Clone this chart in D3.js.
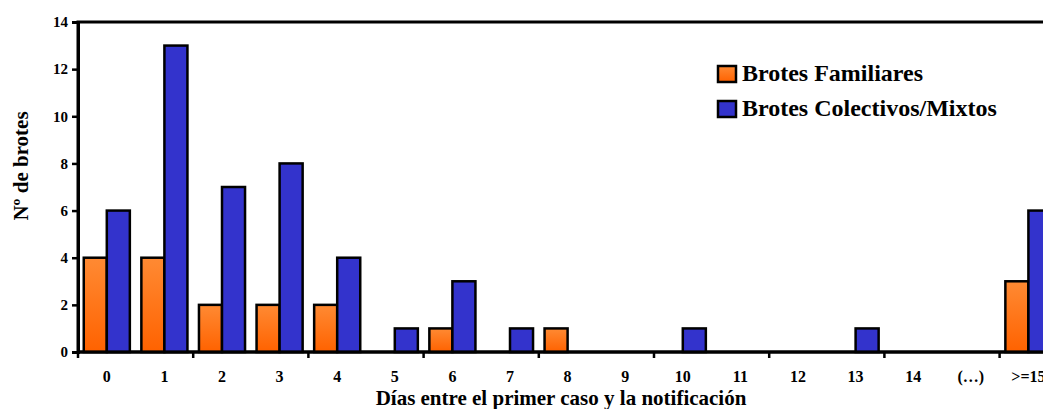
<!DOCTYPE html>
<html>
<head>
<meta charset="utf-8">
<script src="https://cdn.jsdelivr.net/npm/d3@7"></script>
<style>
  body { margin: 0; background: #fff; }
  svg { display: block; }
  text { font-family: "Liberation Serif", "Times New Roman", serif; font-weight: bold; fill: #000; }
</style>
</head>
<body>
<svg></svg>
<script>
const categorias = ["0", "1", "2", "3", "4", "5", "6", "7", "8", "9", "10", "11", "12", "13", "14", "(…)", ">=15"]
const familiares = [4, 4, 2, 2, 2, 0, 1, 0, 1, 0, 0, 0, 0, 0, 0, 0, 3]
const colectivos = [6, 13, 7, 8, 4, 1, 3, 1, 0, 0, 1, 0, 0, 1, 0, 0, 6]
const yTicks = [0, 2, 4, 6, 8, 10, 12, 14]
const series = [
    { naam: "Brotes Familiares", waarden: familiares, fill: "url(#oranje)" },
    { naam: "Brotes Colectivos/Mixtos", waarden: colectivos, fill: "#3333CC" }
]

const width = 1043
const height = 409
const margin = { left: 78, top: 22, bottom: 57 }
const plotRight = margin.left + categorias.length * 57.6

const svg = d3.select('svg')
    .attr("width", width)
    .attr("height", height)

const defs = svg.append("defs")
const grad = defs.append("linearGradient")
    .attr("id", "oranje")
    .attr("x1", 0).attr("y1", 0).attr("x2", 0).attr("y2", 1)
grad.append("stop").attr("offset", "0%").attr("stop-color", "#FF8A33")
grad.append("stop").attr("offset", "100%").attr("stop-color", "#FF6200")

const x = d3.scaleBand()
    .domain(categorias)
    .range([margin.left, plotRight])
    .paddingInner(0.2)
    .paddingOuter(0.1)

const xSub = d3.scaleBand()
    .domain(series.map(s => s.naam))
    .range([0, x.bandwidth()])

const y = d3.scaleLinear()
    .domain([0, 14])
    .range([height - margin.bottom, margin.top])

// kader
svg.append("rect")
    .attr("x", margin.left)
    .attr("y", margin.top)
    .attr("width", plotRight - margin.left)
    .attr("height", y(0) - margin.top)
    .attr("fill", "none")
    .attr("stroke", "#000")
    .attr("stroke-width", 3)

// staven
series.forEach(s => {
    svg.append("g")
        .selectAll("rect")
        .data(s.waarden.map((v, i) => ({ cat: categorias[i], v })))
        .enter().append("rect")
        .filter(d => d.v > 0)
        .attr("x", d => x(d.cat) + xSub(s.naam))
        .attr("y", d => y(d.v))
        .attr("width", xSub.bandwidth())
        .attr("height", d => y(0) - y(d.v))
        .attr("fill", s.fill)
        .attr("stroke", "#000")
        .attr("stroke-width", 2.5)
})

// y-as
const yAs = svg.append("g")
    .attr("transform", `translate(${margin.left},0)`)
    .call(d3.axisLeft(y).tickValues(yTicks).tickSize(6).tickPadding(4))
yAs.select(".domain").attr("stroke-width", 3)
yAs.selectAll(".tick line").attr("stroke-width", 2.5)
yAs.selectAll("text").style("font-size", "15px").style("font-family", null)

// x-as met streepjes op elke tweede grens
const stap = (plotRight - margin.left) / categorias.length
const grenzen = d3.range(0, categorias.length + 1, 2)
svg.append("g")
    .selectAll("line")
    .data(grenzen)
    .enter().append("line")
    .attr("x1", d => margin.left + d * stap)
    .attr("x2", d => margin.left + d * stap)
    .attr("y1", y(0))
    .attr("y2", y(0) + 6)
    .attr("stroke", "#000")
    .attr("stroke-width", 2.5)

svg.append("line")
    .attr("x1", margin.left).attr("x2", plotRight)
    .attr("y1", y(0)).attr("y2", y(0))
    .attr("stroke", "#000").attr("stroke-width", 3)

svg.append("g")
    .selectAll("text")
    .data(categorias)
    .enter().append("text")
    .attr("x", d => x(d) + x.bandwidth() / 2)
    .attr("y", y(0) + 30)
    .attr("text-anchor", "middle")
    .style("font-size", "16px")
    .text(d => d)

// astitels
svg.append("text")
    .attr("x", 561)
    .attr("y", 405)
    .attr("text-anchor", "middle")
    .style("font-size", "21px")
    .text("Días entre el primer caso y la notificación")

svg.append("text")
    .attr("transform", "translate(28,166) rotate(-90)")
    .attr("text-anchor", "middle")
    .style("font-size", "21px")
    .text("Nº de brotes")

// legenda
const legenda = svg.append("g")
    .selectAll("g")
    .data(series)
    .enter().append("g")
    .attr("transform", (d, i) => `translate(718,${66 + i * 35})`)

legenda.append("rect")
    .attr("width", 18)
    .attr("height", 16)
    .attr("fill", d => d.fill)
    .attr("stroke", "#000")
    .attr("stroke-width", 2.5)

legenda.append("text")
    .attr("x", 24)
    .attr("y", 15)
    .style("font-size", "24px")
    .text(d => d.naam)
</script>
</body>
</html>
